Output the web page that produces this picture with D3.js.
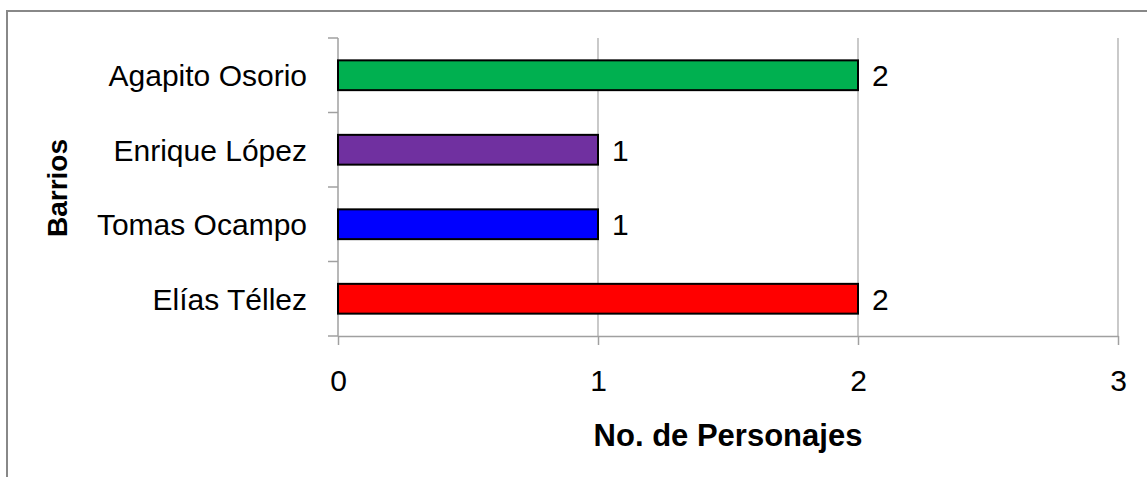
<!DOCTYPE html>
<html>
<head>
<meta charset="utf-8">
<script src="https://cdn.jsdelivr.net/npm/d3@7"></script>
<style>
  body { margin: 0; background: #fff; }
  svg { display: block; font-family: "Liberation Sans", Arial, sans-serif; }
</style>
</head>
<body>
<svg id="chart" width="1147" height="477"></svg>
<script>
// chart data
var barrios = ["Agapito Osorio", "Enrique López", "Tomas Ocampo", "Elías Téllez"];
var personajes = [2, 1, 1, 2];
var colores = ["#00b050", "#7030a0", "#0000ff", "#ff0000"];
var xTicks = [0, 1, 2, 3];

var plotLeft = 338, plotRight = 1118, plotTop = 38, plotBottom = 336;

var svg = d3.select("#chart");

// outer frame (only top and left edges fall inside the picture)
svg.append("rect")
  .attr("x", 7).attr("y", 11)
  .attr("width", 1300).attr("height", 600)
  .attr("fill", "none")
  .attr("stroke", "#888")
  .attr("stroke-width", 2);

var x = d3.scaleLinear().domain([0, 3]).range([plotLeft, plotRight]);
var y = d3.scaleBand().domain(barrios).range([plotTop, plotBottom])
  .paddingInner(0.6).paddingOuter(0.3);

// gridlines
svg.append("g")
  .selectAll("line")
  .data(xTicks.slice(1))
  .enter()
  .append("line")
  .attr("x1", function (d) { return x(d); })
  .attr("x2", function (d) { return x(d); })
  .attr("y1", plotTop).attr("y2", plotBottom)
  .attr("stroke", "#a6a6a6")
  .attr("stroke-width", 1.2);

// x axis
var xAxis = svg.append("g")
  .attr("transform", "translate(0," + plotBottom + ")")
  .call(d3.axisBottom(x).tickValues(xTicks).tickFormat(d3.format("d"))
    .tickSize(9).tickPadding(25).tickSizeOuter(0));
xAxis.select(".domain").attr("stroke", "#a0a0a0").attr("stroke-width", 1.5);
xAxis.selectAll(".tick line").attr("stroke", "#a0a0a0").attr("stroke-width", 1.5);
xAxis.selectAll(".tick text")
  .attr("fill", "#000")
  .style("font-size", "30px")
  .style("font-family", "'Liberation Sans', Arial, sans-serif");

// y axis: line plus ticks at band edges
var yAxis = svg.append("g");
yAxis.append("line")
  .attr("x1", plotLeft).attr("x2", plotLeft)
  .attr("y1", plotTop).attr("y2", plotBottom)
  .attr("stroke", "#a0a0a0").attr("stroke-width", 1.5);
var edges = barrios.map(function (d) { return y(d) - y.step() * y.paddingInner() / 2; });
edges.push(plotBottom);
yAxis.selectAll(".edge")
  .data(edges)
  .enter()
  .append("line")
  .attr("x1", plotLeft - 10).attr("x2", plotLeft)
  .attr("y1", function (d) { return d; })
  .attr("y2", function (d) { return d; })
  .attr("stroke", "#a0a0a0").attr("stroke-width", 1.5);

yAxis.selectAll(".lab")
  .data(barrios)
  .enter()
  .append("text")
  .attr("x", 307)
  .attr("y", function (d) { return y(d) + y.bandwidth() / 2; })
  .attr("dy", "0.36em")
  .attr("text-anchor", "end")
  .style("font-size", "30px")
  .text(function (d) { return d; });

// bars
svg.append("g")
  .selectAll("rect")
  .data(barrios)
  .enter()
  .append("rect")
  .attr("x", x(0))
  .attr("y", function (d) { return y(d); })
  .attr("width", function (d, i) { return x(personajes[i]) - x(0); })
  .attr("height", y.bandwidth())
  .attr("fill", function (d, i) { return colores[i]; })
  .attr("stroke", "#000")
  .attr("stroke-width", 2);

// value labels
svg.append("g")
  .selectAll("text")
  .data(barrios)
  .enter()
  .append("text")
  .attr("x", function (d, i) { return x(personajes[i]) + 14; })
  .attr("y", function (d) { return y(d) + y.bandwidth() / 2; })
  .attr("dy", "0.36em")
  .style("font-size", "30px")
  .text(function (d, i) { return personajes[i]; });

// axis titles
svg.append("text")
  .attr("x", 728).attr("y", 446)
  .attr("text-anchor", "middle")
  .style("font-size", "31px")
  .style("font-weight", "bold")
  .text("No. de Personajes");

svg.append("text")
  .attr("transform", "translate(67,188) rotate(-90)")
  .attr("text-anchor", "middle")
  .style("font-size", "28px")
  .style("font-weight", "bold")
  .text("Barrios");
</script>
</body>
</html>
